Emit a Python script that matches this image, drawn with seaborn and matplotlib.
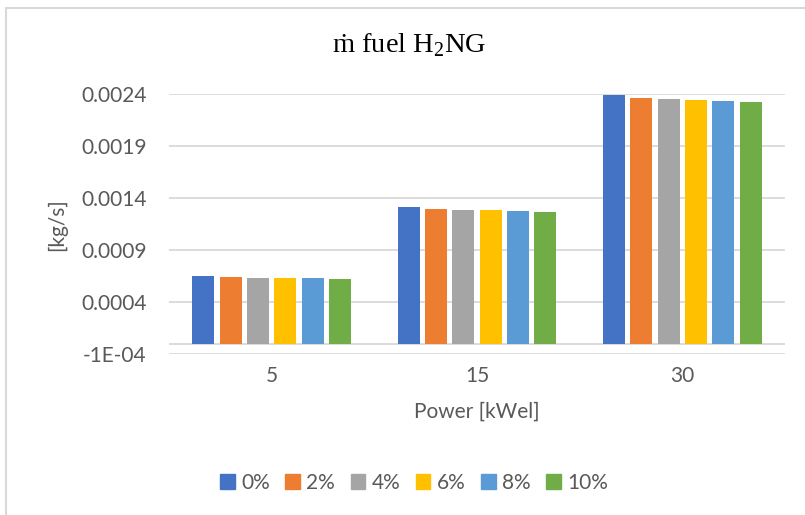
import pandas as pd
import seaborn as sns
import matplotlib.pyplot as plt
from matplotlib.lines import Line2D

# chart data
power = ["5", "15", "30"]
shares = ["0%", "2%", "4%", "6%", "8%", "10%"]
fuel_5 = [0.000649, 0.000640, 0.000636, 0.000630, 0.000630, 0.000624]
fuel_15 = [0.001311, 0.001292, 0.001289, 0.001282, 0.001279, 0.001269]
fuel_30 = [0.002396, 0.002364, 0.002355, 0.002342, 0.002335, 0.002326]
y_ticks = [-0.0001, 0.0004, 0.0009, 0.0014, 0.0019, 0.0024]
y_tick_labels = ["-1E-04", "0.0004", "0.0009", "0.0014", "0.0019", "0.0024"]

colors = ["#4472C4", "#ED7D31", "#A5A5A5", "#FFC000", "#5B9BD5", "#70AD47"]

rows = []
for p, vals in zip(power, [fuel_5, fuel_15, fuel_30]):
    for s, v in zip(shares, vals):
        rows.append({"power": p, "share": s, "value": v})
df = pd.DataFrame(rows)

sns.set_style("white")
plt.rcParams["font.family"] = ["Lato", "DejaVu Sans"]
plt.rcParams["mathtext.fontset"] = "custom"
plt.rcParams["mathtext.rm"] = "Liberation Serif"
grey = "#595959"

fig = plt.figure(figsize=(8.05, 5.15), dpi=100)
ax = fig.add_axes([169 / 805, 161 / 515, 616 / 805, 259.7 / 515])

sns.barplot(data=df, x="power", y="value", hue="share", order=power,
            hue_order=shares, palette=colors, saturation=1, width=0.8, gap=0.2,
            edgecolor="none", linewidth=0, legend=False, ax=ax)

ax.set_ylim(-0.0001, 0.0024)
ax.set_yticks(y_ticks)
ax.set_yticklabels(y_tick_labels)
ax.yaxis.grid(True, color="#D9D9D9", linewidth=1.3)
ax.set_axisbelow(True)
ax.axhline(0, color="#D9D9D9", linewidth=1.3, zorder=0.5)
for sp in ax.spines.values():
    sp.set_visible(False)
ax.tick_params(axis="y", length=0, pad=16, labelsize=15, labelcolor=grey)
ax.tick_params(axis="x", length=0, pad=9, labelsize=15, labelcolor=grey)

ax.set_xlabel("Power [kWel]", fontsize=15, color=grey)
ax.xaxis.set_label_coords(0.5, -0.183)
ax.set_ylabel("[kg/s]", fontsize=15, color=grey)
ax.yaxis.set_label_coords(-0.165, 0.5)

fig.text(409.5 / 805, 1 - 45 / 515, "ṁ fuel H$_\\mathregular{2}$NG",
         family="Liberation Serif", fontsize=20.5, color="black",
         ha="center", va="center")

handles = [plt.Rectangle((0, 0), 1, 1, color=c) for c in colors]
fig.legend(handles, shares, loc="center", bbox_to_anchor=(414 / 805, 1 - 483 / 515),
           ncol=6, frameon=False, fontsize=15, labelcolor=grey,
           handlelength=0.7, handleheight=0.7, handletextpad=0.3,
           columnspacing=0.75)

# chart border (left and top edge visible)
fig.add_artist(Line2D([5.5 / 805, 5.5 / 805], [0, 1 - 7.5 / 515],
                      color="#D9D9D9", linewidth=1.5))
fig.add_artist(Line2D([5.5 / 805, 1], [1 - 7.5 / 515, 1 - 7.5 / 515],
                      color="#D9D9D9", linewidth=1.5))

fig.savefig("out.png", dpi=100)
